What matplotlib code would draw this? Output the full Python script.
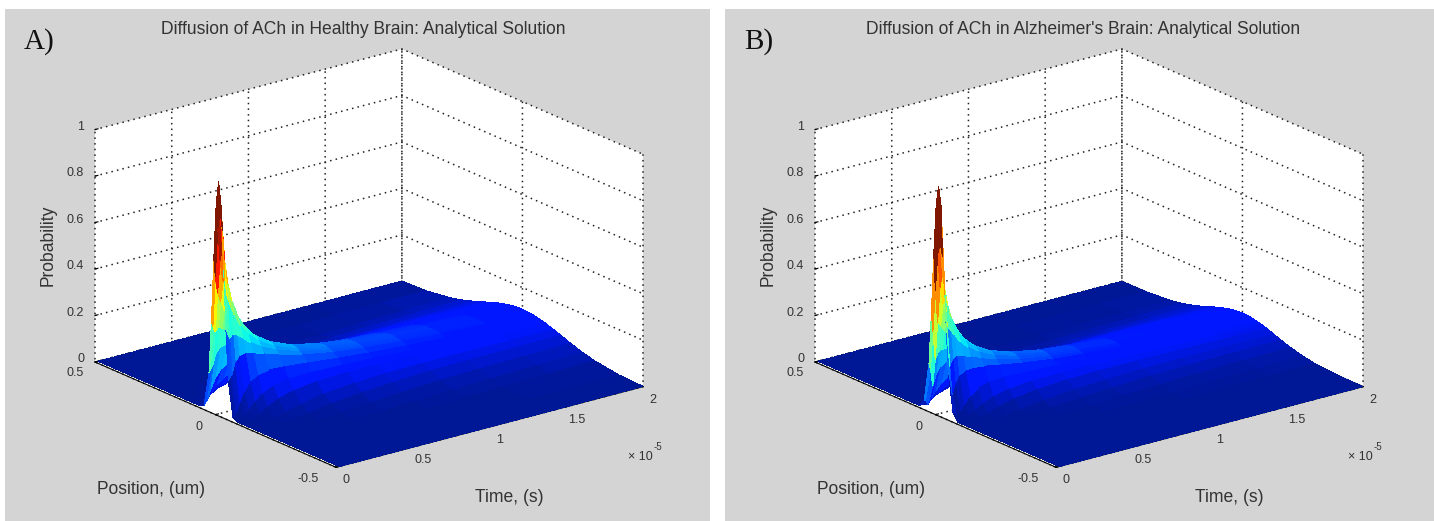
import numpy as np
import matplotlib
matplotlib.use("Agg")
import matplotlib.pyplot as plt
from matplotlib.colors import Normalize
from mpl_toolkits.mplot3d import proj3d

# time in units of 1e-5 s, position in um (x >= 0, the other side is the mirror image)
times = [0.02, 0.03, 0.045, 0.065, 0.09, 0.13, 0.18, 0.25, 0.35, 0.5, 0.7, 0.9, 1.15, 1.4, 1.7, 2.0]
positions = [0, 0.01, 0.02, 0.03, 0.04, 0.06, 0.08, 0.1, 0.13, 0.16, 0.2, 0.25, 0.3, 0.4, 0.5]

prob_a = [
    [1.000, .900, .660, .380, .160, .010, 0, 0, 0, 0, 0, 0, 0, 0, 0],
    [.866, .790, .580, .360, .170, .020, 0, 0, 0, 0, 0, 0, 0, 0, 0],
    [.707, .650, .506, .334, .186, .035, .003, 0, 0, 0, 0, 0, 0, 0, 0],
    [.588, .555, .467, .350, .233, .073, .015, .002, 0, 0, 0, 0, 0, 0, 0],
    [.500, .480, .423, .343, .256, .111, .035, .008, 0, 0, 0, 0, 0, 0, 0],
    [.416, .404, .370, .321, .262, .147, .065, .023, .003, 0, 0, 0, 0, 0, 0],
    [.354, .347, .325, .293, .254, .167, .093, .044, .010, .002, 0, 0, 0, 0, 0],
    [.300, .296, .283, .262, .236, .175, .115, .067, .024, .006, .001, 0, 0, 0, 0],
    [.254, .251, .243, .231, .214, .172, .128, .087, .041, .016, .003, 0, 0, 0, 0],
    [.212, .210, .206, .198, .188, .162, .131, .100, .060, .031, .010, .002, 0, 0, 0],
    [.179, .178, .175, .171, .164, .148, .127, .105, .072, .045, .021, .006, .001, 0, 0],
    [.158, .157, .155, .152, .148, .136, .121, .104, .078, .054, .030, .012, .004, 0, 0],
    [.140, .140, .138, .136, .133, .124, .114, .101, .081, .061, .038, .018, .007, .001, 0],
    [.127, .127, .126, .124, .122, .115, .107, .097, .081, .064, .043, .024, .011, .002, 0],
    [.115, .115, .114, .113, .111, .106, .100, .092, .079, .065, .047, .029, .016, .003, .001],
    [.106, .106, .105, .104, .103, .099, .094, .088, .077, .066, .050, .033, .020, .005, .001],
]

prob_b = [
    [.980, .900, .680, .420, .200, .030, 0, 0, 0, 0, 0, 0, 0, 0, 0],
    [.733, .680, .520, .340, .170, .030, .002, 0, 0, 0, 0, 0, 0, 0, 0],
    [.599, .534, .380, .214, .097, .010, 0, 0, 0, 0, 0, 0, 0, 0, 0],
    [.498, .460, .363, .245, .141, .029, .003, 0, 0, 0, 0, 0, 0, 0, 0],
    [.423, .400, .337, .253, .170, .054, .011, .001, 0, 0, 0, 0, 0, 0, 0],
    [.352, .338, .301, .247, .187, .085, .028, .007, 0, 0, 0, 0, 0, 0, 0],
    [.299, .290, .267, .231, .190, .107, .048, .017, .002, 0, 0, 0, 0, 0, 0],
    [.254, .249, .234, .211, .183, .121, .068, .033, .008, .001, 0, 0, 0, 0, 0],
    [.215, .212, .203, .188, .170, .127, .084, .050, .018, .005, .001, 0, 0, 0, 0],
    [.180, .178, .173, .164, .153, .124, .093, .065, .032, .013, .003, 0, 0, 0, 0],
    [.152, .151, .148, .142, .135, .117, .095, .073, .044, .023, .008, .002, 0, 0, 0],
    [.134, .133, .131, .127, .122, .109, .093, .076, .051, .031, .014, .004, .001, 0, 0],
    [.118, .117, .116, .113, .110, .100, .089, .076, .056, .038, .020, .007, .002, 0, 0],
    [.107, .107, .105, .104, .101, .094, .085, .074, .058, .042, .025, .011, .004, 0, 0],
    [.097, .097, .096, .094, .092, .087, .080, .072, .058, .045, .029, .015, .006, .001, 0],
    [.090, .090, .089, .088, .086, .082, .076, .070, .058, .046, .032, .018, .009, .001, 0],
]

time_ticks = [0, 0.5, 1, 1.5, 2]
position_ticks = [-0.5, 0, 0.5]
prob_ticks = [0, 0.2, 0.4, 0.6, 0.8, 1]
titles = ["Diffusion of ACh in Healthy Brain: Analytical Solution",
          "Diffusion of ACh in Alzheimer's Brain: Analytical Solution"]

W, H = 1434, 521
GREY = "#d4d4d4"
TXT = "#333333"

plt.rcParams["font.family"] = ["Liberation Sans", "DejaVu Sans"]
plt.rcParams["grid.color"] = "#222222"
plt.rcParams["grid.linestyle"] = (0, (1, 2.7))
plt.rcParams["grid.linewidth"] = 1.1

fig = plt.figure(figsize=(W / 100, H / 100), dpi=100, facecolor="white")


def to_fig(x, y):
    return x / W, 1 - y / H


def project(ax, t, p, z):
    x2, y2, _ = proj3d.proj_transform(t, p, z, ax.get_proj())
    return x2, y2


def fit_axes(ax, dx):
    # the box corners are put on the pixels they have in the picture
    size = 800
    ax.set_position([100 / W, 1 - 900 / H, size / W, size / H])
    ax.apply_aspect()
    a = ax.transData.transform(project(ax, 0, 0.5, 0))
    b = ax.transData.transform(project(ax, 2, -0.5, 0))
    k = (643 - 95) / (b[0] - a[0])
    size2 = size * k
    left = 95 + dx - (a[0] - 100) * k
    bottom = (H - 362) - (a[1] - (H - 900)) * k
    ax.set_position([left / W, bottom / H, size2 / W, size2 / H])


def draw_panel(dx, panel_w, letter, title, prob):
    fig.add_artist(plt.Rectangle(to_fig(5 + dx, 521), panel_w / W, 512 / H,
                                 transform=fig.transFigure, color=GREY, lw=0, zorder=-5))
    ax = fig.add_subplot(projection="3d", proj_type="ortho")
    ax.set_facecolor("none")
    ax.view_init(elev=19.8, azim=-127.8)
    ax.set_box_aspect((390, 395, 248))

    half = np.array(positions)
    z_half = np.array(prob)
    p = np.concatenate((-half[:0:-1], half))
    z = np.hstack((z_half[:, :0:-1], z_half))
    T, P = np.meshgrid(times, p, indexing="ij")
    # each facet takes the colour of its first corner, as in the original surf plot
    colors = plt.get_cmap("jet")(Normalize(-0.02, 0.9)(z))
    colors[:, :, 1] = np.maximum(colors[:, :, 1], 0.09)
    ax.plot_surface(T, P, z, facecolors=colors, rstride=1, cstride=1,
                    linewidth=0, antialiased=False, shade=False)

    ax.set_xlim(0, 2, view_margin=0)
    ax.set_ylim(-0.5, 0.5, view_margin=0)
    ax.set_zlim(0, 1, view_margin=0)
    ax.set_xticks(time_ticks)
    ax.set_yticks(position_ticks)
    ax.set_zticks(prob_ticks)
    ax.set_xticklabels([])
    ax.set_yticklabels([])
    ax.set_zticklabels([])
    for axis in (ax.xaxis, ax.yaxis, ax.zaxis):
        axis.set_pane_color("white")
        axis.pane.set_edgecolor("none")
        axis._axinfo["tick"]["inward_factor"] = 0
        axis._axinfo["tick"]["outward_factor"] = 0.12
    ax.zaxis.set_ticks_position("upper")
    ax.zaxis.line.set_color("none")

    fit_axes(ax, dx)

    for v in time_ticks:
        ax.annotate(f"{v:g}", project(ax, v, -0.5, 0), xytext=(10, -13), textcoords="offset pixels",
                    ha="center", va="center", fontsize=9, color=TXT, annotation_clip=False)
    for v in position_ticks:
        off = {-0.5: (-28, -12), 0: (-17, -12), 0.5: (-20, -11)}[v]
        ax.annotate(f"{v:g}", project(ax, 0, v, 0), xytext=off, textcoords="offset pixels",
                    ha="center", va="center", fontsize=9, color=TXT, annotation_clip=False)
    for v in prob_ticks:
        ax.annotate(f"{v:g}", project(ax, 0, 0.5, v), xytext=(-11, 3), textcoords="offset pixels",
                    ha="right", va="center", fontsize=9, color=TXT, annotation_clip=False)

    fig.text(*to_fig(363 + dx, 29), title, ha="center", va="center", fontsize=12.65, color=TXT)
    fig.text(*to_fig(48 + dx, 245), "Probability", rotation=90, ha="center", va="center", fontsize=12.65, color=TXT)
    fig.text(*to_fig(151 + dx, 490), "Position, (um)", ha="center", va="center", fontsize=12.65, color=TXT)
    fig.text(*to_fig(509 + dx, 497), "Time, (s)", ha="center", va="center", fontsize=12.65, color=TXT)
    fig.text(*to_fig(640 + dx, 457), "\u00d7 10", ha="center", va="center", fontsize=9, color=TXT)
    fig.text(*to_fig(658 + dx, 447), "-5", ha="center", va="center", fontsize=7, color=TXT)
    fig.text(*to_fig(39 + dx, 42), letter, ha="center", va="center", fontsize=21, color="#111111",
             family="Liberation Serif")


draw_panel(0, 705, "A)", titles[0], prob_a)
draw_panel(720, 709, "B)", titles[1], prob_b)

fig.savefig("out.png", dpi=100, facecolor="white")
